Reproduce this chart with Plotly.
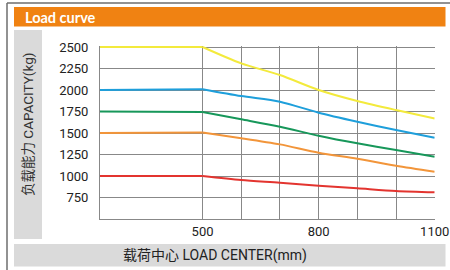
import plotly.graph_objects as go

W, H = 450, 270

# ---- data ----
X_MIN = 235
load_center = [X_MIN, 500, 600, 700, 800, 900, 1000, 1100]
cap_2500 = [2500, 2500, 2310, 2174, 2000, 1872, 1767, 1670]
cap_2000 = [2000, 2010, 1930, 1864, 1736, 1631, 1535, 1445]
cap_1750 = [1750, 1745, 1660, 1573, 1469, 1380, 1302, 1224]
cap_1500 = [1500, 1505, 1440, 1368, 1271, 1201, 1120, 1050]
cap_1000 = [1000, 1000, 953, 922, 887, 857, 826, 810]

series = [
    (cap_2500, "#f3ea3c"),
    (cap_2000, "#1e9fdb"),
    (cap_1750, "#17975a"),
    (cap_1500, "#f2953a"),
    (cap_1000, "#e3342f"),
]

x_grid = [500, 600, 700, 800, 900, 1000, 1100]
x_text = ["500", "", "", "800", "", "", "1100"]
y_ticks = [750, 1000, 1250, 1500, 1750, 2000, 2250, 2500]
Y_MAX = 2512

fig = go.Figure()
for vals, col in series:
    # flat segment up to 500 mm
    fig.add_trace(go.Scatter(
        x=load_center[:2], y=vals[:2], mode="lines",
        line=dict(color=col, width=2),
        hoverinfo="skip", showlegend=False))
    # declining curve beyond 500 mm
    fig.add_trace(go.Scatter(
        x=load_center[1:], y=vals[1:], mode="lines",
        line=dict(color=col, width=2, shape="spline", smoothing=0.8),
        hoverinfo="skip", showlegend=False))

def px(x):
    return x / W

def py(y):
    return 1 - y / H

# plot area in pixels (top edge sits 1px above the 2500 gridline)
L, R, T, B = 100, 434.7, 46, 219

fig.update_layout(
    width=W, height=H,
    margin=dict(l=0, r=0, t=0, b=0),
    paper_bgcolor="white", plot_bgcolor="white",
    font=dict(family="Roboto, Open Sans, sans-serif", color="#222"),
    xaxis=dict(domain=[px(L), px(R)], range=[X_MIN, 1100],
               tickvals=x_grid, ticktext=x_text, showgrid=True,
               gridcolor="#888888", gridwidth=1, zeroline=False,
               showline=True, linecolor="#888888", mirror=False,
               ticks="", tickfont=dict(size=13, color="#222"),
               automargin=False, fixedrange=True),
    yaxis=dict(domain=[py(B), py(T)], range=[500, Y_MAX],
               tickvals=y_ticks, showgrid=True,
               gridcolor="#888888", gridwidth=1, zeroline=False,
               showline=True, linecolor="#888888", mirror=False,
               ticks="", ticklabelstandoff=8,
               tickfont=dict(size=13, color="#222"),
               automargin=False, fixedrange=True),
    shapes=[
        # outer frame lines
        dict(type="line", xref="paper", yref="paper", x0=px(7), x1=1,
             y0=py(3), y1=py(3), line=dict(color="#6e6e6e", width=1.5)),
        dict(type="line", xref="paper", yref="paper", x0=px(7), x1=px(7),
             y0=py(3), y1=0, line=dict(color="#6e6e6e", width=1.5)),
        # header bar
        dict(type="rect", xref="paper", yref="paper", x0=px(14), x1=px(445.5),
             y0=py(26.5), y1=py(7), fillcolor="#f08212", line=dict(width=0),
             layer="below"),
        # y-title box
        dict(type="rect", xref="paper", yref="paper", x0=px(14), x1=px(42),
             y0=py(239), y1=py(30), fillcolor="#dadada", line=dict(width=0),
             layer="below"),
        # x-title bar
        dict(type="rect", xref="paper", yref="paper", x0=px(14), x1=px(445.5),
             y0=py(266.5), y1=py(244), fillcolor="#dadada", line=dict(width=0),
             layer="below"),
    ],
    annotations=[
        dict(text="<b>Load curve</b>", xref="paper", yref="paper",
             x=px(23), y=py(17), xanchor="left", yanchor="middle",
             showarrow=False, font=dict(size=14.5, color="white",
                                        family="Lato, sans-serif")),
        dict(text="负载能力 CAPACITY(kg)", xref="paper", yref="paper",
             x=px(28), y=py(125), xanchor="center", yanchor="middle",
             textangle=-90, showarrow=False,
             font=dict(size=13.5, color="#333",
                       family="Roboto, Noto Sans CJK SC, sans-serif")),
        dict(text="载荷中心 LOAD CENTER(mm)", xref="paper", yref="paper",
             x=px(215), y=py(255), xanchor="center", yanchor="middle",
             showarrow=False,
             font=dict(size=14, color="#222",
                       family="Roboto, Noto Sans CJK SC, sans-serif")),
    ],
)

fig.write_html("out.html", config={"displayModeBar": False},
               post_script="document.body.style.margin='0';")
